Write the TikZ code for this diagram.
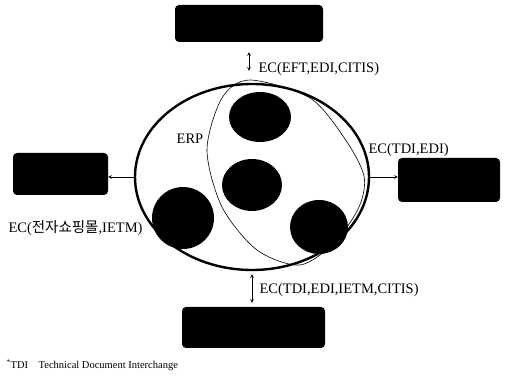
\documentclass[tikz,border=0pt]{standalone}
\usepackage{fontspec}
\setmainfont{Liberation Serif}
\newfontfamily\krfont{Noto Sans CJK KR}
\usetikzlibrary{shapes.geometric,arrows,positioning}

\begin{document}
\begin{tikzpicture}[
    x=1pt, y=1pt,
    >=stealth,
    blackbox/.style={fill=black, rounded corners=4pt, inner sep=0pt},
    link/.style={<->, semithick},
    oneway/.style={->, semithick},
    lbl/.style={font=\fontsize{14.5}{16}\selectfont}
]
\useasboundingbox (0,0) rectangle (506,379);

% === ERP boundary ===
\node[ellipse, draw, line width=2.4pt, minimum width=234pt, minimum height=186pt, inner sep=0pt] (erp) at (252,202) {};
\draw[line width=0.6pt] plot[smooth cycle] coordinates {
    (250,299) (310,281) (345,240) (364,203) (359,172) (335,137) (300,114)
    (257,129) (222,172) (207,229) (222,281)};

% Modules inside
\fill (260,262) ellipse [x radius=31pt, y radius=25pt];
\fill (252,194) ellipse [x radius=30pt, y radius=26pt];
\fill (183,161) ellipse [x radius=31pt, y radius=31pt];
\fill (319,152) ellipse [x radius=29pt, y radius=27pt];

\node[lbl] at (190,240) {ERP};

% === Partners ===
\node[blackbox, minimum width=148pt, minimum height=37pt] (tbox) at (249,355.5) {};
\node[blackbox, minimum width=95pt, minimum height=42pt] (lbox) at (60.5,205) {};
\node[blackbox, minimum width=102pt, minimum height=44pt] (rbox) at (449,199) {};
\node[blackbox, minimum width=143pt, minimum height=41pt] (bbox) at (253.5,51.5) {};

% Links
\draw[link, shorten <=10pt, shorten >=12pt] (tbox.south) -- (tbox.south |- erp.north);
\draw[oneway] (erp.west) -- (lbox.east |- erp.west);
\draw[oneway] (erp.east) -- (rbox.west |- erp.east);
\draw[link, shorten <=3pt, shorten >=4pt] (erp.south) -- (erp.south |- bbox.north);

% Link labels
\node[lbl, anchor=west] at (255,310) {EC(EFT,EDI,CITIS)};
\node[lbl, anchor=west] at (365,229) {EC(TDI,EDI)};
\node[lbl, anchor=west] at (5,151) {EC({\krfont 전자쇼핑몰},IETM)};
\node[lbl, anchor=west] at (256,89) {EC(TDI,EDI,IETM,CITIS)};

% Footnote
\node[anchor=west, font=\fontsize{10.5}{12}\selectfont] at (3,14) {\textsuperscript{*}TDI\quad Technical Document Interchange};

\end{tikzpicture}
\end{document}
